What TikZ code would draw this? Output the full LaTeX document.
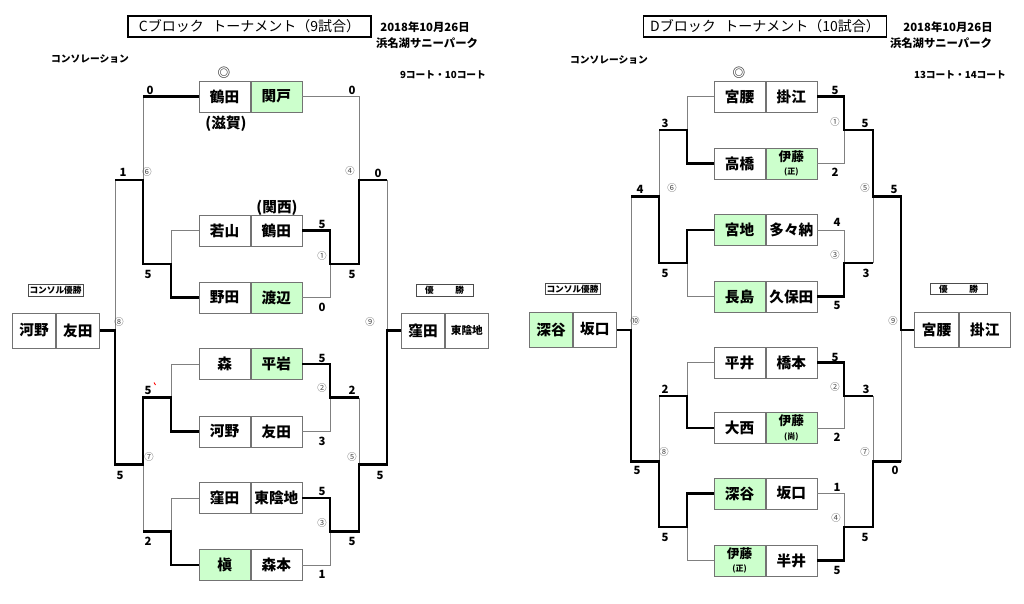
\documentclass[tikz,border=0pt]{standalone}
\usepackage{fontspec}
\setmainfont{Noto Sans CJK JP}
\definecolor{cg}{HTML}{CCFFCC}
\newcommand{\pbox}[8][]{%
  \node[cell,#1,fill=#7,anchor=east] (#2l) at (#3,#4) {#5};
  \node[cell,#1,fill=#8,anchor=west] (#2r) at (#3,#4) {#6};}
\newcommand{\scr}[3]{\node[sc] (s#1-#2) at (#1,#2) {#3};}
\newcommand{\cnum}[3]{\node[cn] (n#1-#2) at (#1,#2) {#3};}
\newcommand{\two}[2]{{\fontsize{9.5}{9.5}\selectfont #1}\\[-1pt]{\fontsize{6}{6}\selectfont #2}}
\begin{document}
\begin{tikzpicture}[x=0.75pt,y=-0.75pt,
  thn/.style={draw=black!50, line width=0.6pt},
  thk/.style={draw=black, line width=1.6pt},
  cell/.style={draw=black!55, line width=0.6pt, minimum width=38.25pt, minimum height=23.25pt,
     inner sep=0pt, align=center, font=\fontsize{11}{11}\selectfont\bfseries},
  fcell/.style={minimum width=32.25pt, minimum height=26.25pt},
  sc/.style={font=\fontsize{8.5}{9}\selectfont\bfseries, inner sep=0pt},
  cn/.style={font=\fontsize{7}{7}\selectfont, text=black!70, inner sep=0pt},
  lbl/.style={draw=black!70, line width=0.6pt, inner sep=1.2pt, font=\fontsize{6.5}{7}\selectfont\bfseries},
  small/.style={font=\fontsize{8.5}{9}\selectfont\bfseries, inner sep=0pt},
  tiny/.style={font=\fontsize{7.3}{8}\selectfont\bfseries, inner sep=0pt},
  star/.style={font=\fontsize{9.5}{9.5}\selectfont\bfseries, text=black!85, inner sep=0pt},
  titlebox/.style={draw=black, line width=1pt, minimum width=182.25pt, minimum height=15.75pt,
     inner sep=0pt, font=\fontsize{10.5}{11}\selectfont}]
\fill[white] (0,0) rectangle (1024,603);
\useasboundingbox (0,0) rectangle (1024,603);

%================ C block ================
\node[titlebox] (ctitle) at (249.5,26.5) {Cブロック\hspace{0.6em}トーナメント（9試合）};
\node[small] (cdate) at (425,27) {2018年10月26日};
\node[small] (cplace) at (427,43) {浜名湖サニーパーク};
\node[tiny] (ccons) at (90,59) {コンソレーション};
\node[tiny] (ccourt) at (443,75) {9コート・10コート};
\node[star] (cstar) at (224,73) {◎};

\pbox{cT}{250.5}{96.5}{鶴田}{関戸}{white}{cg}
\pbox{cA}{250.5}{230.5}{若山}{鶴田}{white}{white}
\pbox{cB}{250.5}{297.5}{野田}{渡辺}{white}{cg}
\pbox{cC}{250.5}{364}{森}{平岩}{white}{cg}
\pbox{cD}{250.5}{431.5}{河野}{友田}{white}{white}
\pbox{cE}{250.5}{498}{窪田}{東陰地}{white}{white}
\pbox{cF}{250.5}{565}{槇}{森本}{cg}{white}
\pbox[fcell]{cW}{445}{330.5}{窪田}{{\fontsize{8}{8}\selectfont 東陰地}}{white}{white}
\pbox[fcell]{cK}{56}{330.5}{河野}{友田}{white}{white}

\node[font=\fontsize{11}{11}\selectfont\bfseries, inner sep=0pt] (cshiga) at (226,124) {(滋賀)};
\node[font=\fontsize{11}{11}\selectfont\bfseries, inner sep=0pt] (ckansai) at (277,208) {(関西)};
\node[lbl] (cconsw) at (55.5,290.5) {コンソル優勝};
\node[lbl, minimum width=42.75pt] (cwin) at (444.5,290.5) {優\hspace{2.5em}勝};

\coordinate (cRa) at (330,264);
\coordinate (cRb) at (330,397.5);
\coordinate (cRc) at (330,531.5);
\coordinate (cR4) at (359,180);
\coordinate (cR5) at (359,464.5);
\coordinate (cR9) at (387,331);
\coordinate (cLa) at (171,264);
\coordinate (cLb) at (171,397.5);
\coordinate (cLc) at (171,531.5);
\coordinate (cL6) at (143,180);
\coordinate (cL7) at (143,464.5);
\coordinate (cL8) at (115,331);

% right side (main)
\draw[thn] (cTr.east) -| (cR4);
\draw[thn] (cBr.east) -| (cRa);
\draw[thn] (cR4 -| cR9) -- (cR9);
\draw[thn] (cDr.east) -| (cRb);
\draw[thn] (cRb -| cR5) -- (cR5);
\draw[thn] (cFr.east) -| (cRc);
\draw[thk] (cAr.east) -| (cRa) -| (cR4) -- (cR4 -| cR9);
\draw[thk] (cCr.east) -| (cRb) -- (cRb -| cR5);
\draw[thk] (cEr.east) -| (cRc) -| (cR5) -- (cR5 -| cR9) |- (cWl.west);
% left side (consolation)
\draw[thn] (cTl.west -| cL6) -- (cL6);
\draw[thn] (cAl.west) -| (cLa);
\draw[thn] (cL6 -| cL8) -- (cL8);
\draw[thn] (cCl.west) -| (cLb);
\draw[thn] (cL7) -- (cLc -| cL7);
\draw[thn] (cEl.west) -| (cLc);
\draw[thk] (cTl.west) -- (cTl.west -| cL6);
\draw[thk] (cBl.west) -| (cLa) -- (cLa -| cL6) -- (cL6) -- (cL6 -| cL8);
\draw[thk] (cDl.west) -| (cLb) -- (cLb -| cL7) -- (cL7) -- (cL7 -| cL8) |- (cKr.east);
\draw[thk] (cFl.west) -| (cLc) -- (cLc -| cL7);
\draw[red, line width=0.7pt] (cLb -| cL7) ++(11,-15) -- ++(1.5,2.5);

\scr{150}{90}{0}\scr{352}{90}{0}\scr{123}{172}{1}\scr{378}{173}{0}
\scr{322}{224}{5}\scr{148}{274}{5}\scr{352}{274}{5}\scr{322}{307}{0}
\scr{322}{358}{5}\scr{148}{390}{5}\scr{352}{390}{2}\scr{322}{441}{3}
\scr{120}{475}{5}\scr{380}{475}{5}\scr{322}{491}{5}\scr{148}{541}{2}
\scr{352}{541}{5}\scr{322}{574}{1}
\cnum{147}{172}{⑥}\cnum{350}{171}{④}\cnum{322}{256}{①}\cnum{119}{322}{⑧}
\cnum{370}{322}{⑨}\cnum{322}{388}{②}\cnum{149}{457}{⑦}\cnum{352}{457}{⑤}
\cnum{322}{523}{③}

%================ D block ================
\node[titlebox] (dtitle) at (765,26.5) {Dブロック\hspace{0.6em}トーナメント（10試合）};
\node[small] (ddate) at (948,27) {2018年10月26日};
\node[small] (dplace) at (941,43) {浜名湖サニーパーク};
\node[tiny] (dcons) at (609,60) {コンソレーション};
\node[tiny] (dcourt) at (960,75) {13コート・14コート};
\node[star] (dstar) at (739,73) {◎};

\pbox{d1}{765.5}{96.5}{宮腰}{掛江}{white}{white}
\pbox{d2}{765.5}{163.5}{高橋}{\two{伊藤}{(正)}}{white}{cg}
\pbox{d3}{765.5}{230}{宮地}{多々納}{cg}{white}
\pbox{d4}{765.5}{296.5}{長島}{久保田}{cg}{white}
\pbox{d5}{765.5}{362.5}{平井}{橋本}{white}{white}
\pbox{d6}{765.5}{428}{大西}{\two{伊藤}{(尚)}}{white}{cg}
\pbox{d7}{765.5}{493.5}{深谷}{坂口}{cg}{white}
\pbox{d8}{765.5}{560.5}{\two{伊藤}{(正)}}{半井}{cg}{white}
\node[cell, fcell, minimum width=33pt, anchor=east] (dWl) at (959,329.5) {宮腰};
\node[cell, fcell, minimum width=38.25pt, anchor=west] (dWr) at (959,329.5) {掛江};
\pbox[fcell]{dK}{573}{329.5}{深谷}{坂口}{cg}{white}

\node[lbl] (dconsw) at (572.5,289) {コンソル優勝};
\node[lbl, minimum width=42.75pt] (dwin) at (958.5,289) {優\hspace{2.5em}勝};

\coordinate (dRa) at (844,130);
\coordinate (dRb) at (844,263);
\coordinate (dRc) at (844,396);
\coordinate (dRd) at (844,527);
\coordinate (dR5) at (873,196.5);
\coordinate (dR7) at (873,461.5);
\coordinate (dR9) at (901,330);
\coordinate (dLa) at (687,130);
\coordinate (dLb) at (687,263);
\coordinate (dLc) at (687,396);
\coordinate (dLd) at (687,527);
\coordinate (dL6) at (659,196.5);
\coordinate (dL8) at (659,461.5);
\coordinate (dL10) at (631,330);

% right side (main)
\draw[thn] (d2r.east) -| (dRa);
\draw[thn] (d3r.east) -| (dRb);
\draw[thn] (dRb -| dR5) -- (dR5);
\draw[thn] (d6r.east) -| (dRc);
\draw[thn] (dRc -| dR7) -- (dR7);
\draw[thn] (d7r.east) -| (dRd);
\draw[thn] (dR7 -| dR9) -- (dR9);
\draw[thk] (d1r.east) -| (dRa) -- (dRa -| dR5) -- (dR5) -- (dR5 -| dR9) -- (dR9) -- (dR9 -| dWl.west);
\draw[thk] (d4r.east) -| (dRb) -- (dRb -| dR5);
\draw[thk] (d5r.east) -| (dRc) -- (dRc -| dR7);
\draw[thk] (d8r.east) -| (dRd) -- (dRd -| dR7) -- (dR7) -- (dR7 -| dR9);
% left side (consolation)
\draw[thn] (d1l.west) -| (dLa);
\draw[thn] (dLa -| dL6) -- (dL6);
\draw[thn] (d4l.west) -| (dLb);
\draw[thn] (dL6 -| dL10) -- (dL10);
\draw[thn] (d5l.west) -| (dLc);
\draw[thn] (dLc -| dL8) -- (dL8);
\draw[thn] (d8l.west) -| (dLd);
\draw[thk] (d2l.west) -| (dLa) -- (dLa -| dL6);
\draw[thk] (d3l.west) -| (dLb) -- (dLb -| dL6) -- (dL6) -- (dL6 -| dL10);
\draw[thk] (d6l.west) -| (dLc) -- (dLc -| dL8);
\draw[thk] (d7l.west) -| (dLd) -- (dLd -| dL8) -- (dL8) -- (dL8 -| dL10) -- (dL10) -- (dL10 -| dKr.east);

\scr{835}{90}{5}\scr{665}{123}{3}\scr{865}{123}{5}\scr{835}{172}{2}
\scr{640}{189}{4}\scr{894}{189}{5}\scr{837}{222}{4}\scr{665}{273}{5}
\scr{866}{273}{3}\scr{837}{305}{5}\scr{835}{357}{5}\scr{665}{389}{2}
\scr{866}{389}{3}\scr{837}{437}{2}\scr{637}{470}{5}\scr{895}{470}{0}
\scr{837}{487}{1}\scr{665}{537}{5}\scr{865}{537}{5}\scr{837}{570}{5}
\cnum{835}{122}{①}\cnum{672}{188}{⑥}\cnum{865}{188}{⑤}\cnum{835}{255}{③}
\cnum{635}{321}{⑩}\cnum{893}{321}{⑨}\cnum{835}{387}{②}\cnum{664}{452}{⑧}
\cnum{865}{452}{⑦}\cnum{836}{518}{④}
\end{tikzpicture}
\end{document}
